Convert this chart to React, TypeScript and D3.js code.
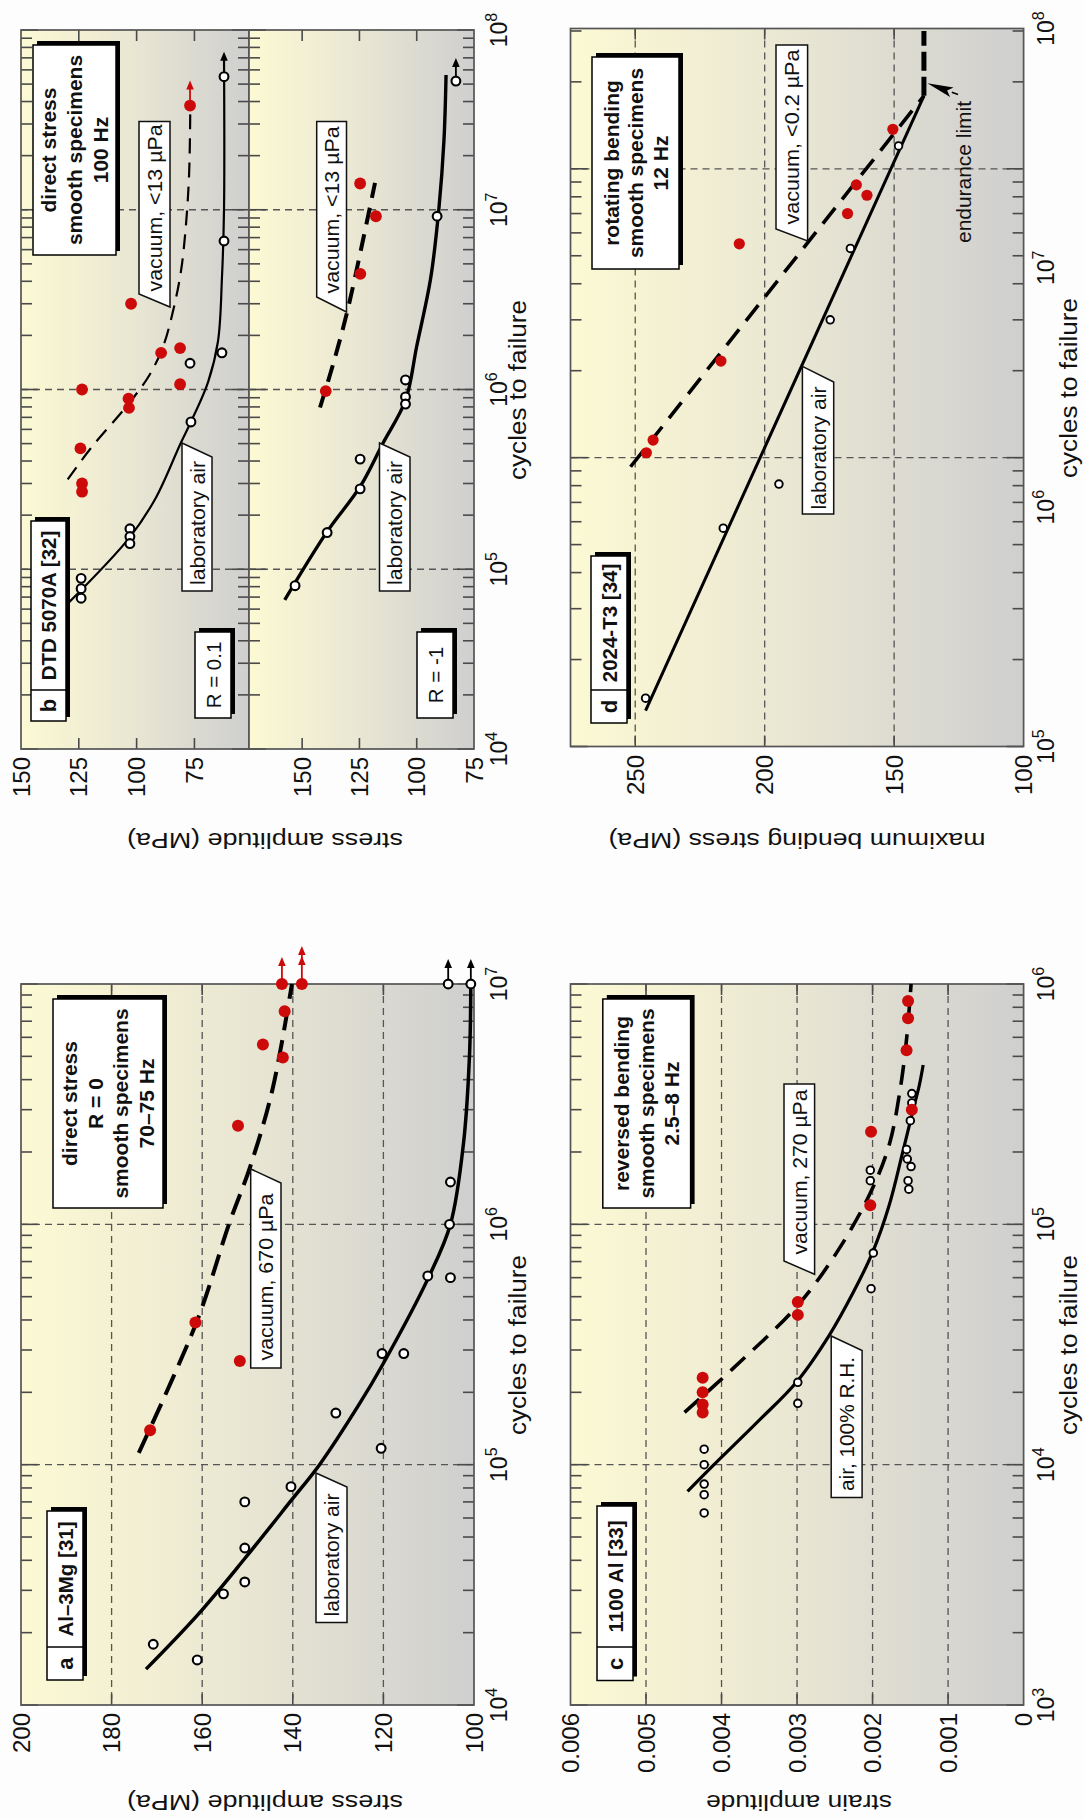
import React from 'react';
import * as d3 from 'd3';

type P = [number, number]; // [cycles, stress or strain]

const FONT = "'Liberation Sans', Arial, Helvetica, sans-serif";
const RED = '#cc0a0a';

// ---------------- Panel a : Al–3Mg [31] ----------------
const aStressTicks = [200, 180, 160, 140, 120, 100];
const aStressGrid = [180, 160, 140, 120];
const aCycleLabels = [1e4, 1e5, 1e6, 1e7];
const aCycleGrid = [1e5, 1e6];
const aAirPts: P[] = [
  [1.5e6, 105.2], [1.0e6, 105.4], [6.1e5, 110.2], [6.0e5, 105.2], [2.9e5, 120.3], [2.9e5, 115.5],
  [1.64e5, 130.5], [1.17e5, 120.5], [8.1e4, 140.4], [7.0e4, 150.6], [4.5e4, 150.6], [3.25e4, 150.6],
  [2.9e4, 155.3], [1.79e4, 170.8], [1.54e4, 161.1],
];
const aAirRunouts: P[] = [[1e7, 105.7], [1e7, 100.7]];
const aVacPts: P[] = [
  [7.7e6, 141.8], [5.6e6, 146.6], [4.95e6, 142.2], [2.57e6, 152.1], [3.9e5, 161.5], [2.7e5, 151.7], [1.39e5, 171.5],
];
const aVacRunouts: P[] = [[1e7, 142.4], [1e7, 138.0]];
const aAirFit: P[] = [
  [1.41e4, 172.4], [2.36e4, 161.1], [4.07e4, 150.6], [7.08e4, 140.4], [1.0e5, 134.1], [1.79e5, 125.3],
  [2.58e5, 120.3], [6.03e5, 110.0], [1.0e6, 105.2], [2.19e6, 102.3], [5.01e6, 101.0], [1.0e7, 100.7],
];
const aVacFit: P[] = [
  [1.12e5, 174.0], [3.98e5, 161.1], [1.0e6, 154.1], [1.74e6, 149.4], [3.63e6, 144.5], [1.0e7, 140.2],
];

// ---------------- Panel b : DTD 5070A [32] ----------------
const bStressLabels = [150, 125, 100, 75];
const b1StressTicks = [125, 100, 75];
const b2StressTicks = [150, 125, 100];
const bCycleLabels = [1e4, 1e5, 1e6, 1e7, 1e8];
const bCycleGrid = [1e5, 1e6, 1e7];
// R = 0.1
const b1AirPts: P[] = [
  [6.7e6, 62.2], [1.6e6, 63.1], [1.4e6, 76.9], [6.6e5, 76.5],
  [1.68e5, 102.9], [1.52e5, 102.9], [1.39e5, 102.9], [8.9e4, 124.0], [7.8e4, 124.0], [6.9e4, 124.0],
];
const b1AirRunouts: P[] = [[5.5e7, 62.2]];
const b1VacPts: P[] = [
  [3.0e6, 102.4], [1.6e6, 89.4], [1.7e6, 81.2], [1.07e6, 81.2], [1.0e6, 123.6], [8.9e5, 103.5],
  [7.9e5, 103.3], [4.7e5, 124.3], [3.0e5, 123.6], [2.7e5, 123.6],
];
const b1VacRunouts: P[] = [[3.8e7, 76.9]];
const b1AirFit: P[] = [
  [6.46e4, 129.7], [1.51e5, 102.9], [2.51e5, 91.6], [5.01e5, 81.0], [6.61e5, 76.5], [1.10e6, 69.1],
  [1.86e6, 64.8], [4.17e6, 63.1], [1.02e7, 62.2], [6.92e7, 62.2],
];
const b1VacFit: P[] = [
  [3.16e5, 129.8], [4.68e5, 120.0], [8.32e5, 103.5], [1.20e6, 94.5], [1.74e6, 88.5], [2.82e6, 84.0],
  [4.57e6, 80.8], [8.13e6, 78.7], [1.58e7, 77.3], [3.55e7, 76.8],
];
// R = -1
const b2AirPts: P[] = [
  [9.2e6, 91.1], [1.13e6, 104.9], [9.1e5, 104.9], [8.3e5, 104.9], [4.1e5, 124.7], [2.8e5, 124.7],
  [1.6e5, 139.1], [8.1e4, 153.1],
];
const b2AirRunouts: P[] = [[5.2e7, 82.9]];
const b2VacPts: P[] = [[1.4e7, 124.7], [9.2e6, 117.8], [4.4e6, 124.6], [9.8e5, 139.7]];
const b2AirFit: P[] = [
  [6.76e4, 157.6], [1.62e5, 139.1], [2.88e5, 124.7], [5.01e5, 114.8], [8.71e5, 104.9], [1.74e6, 100.0],
  [4.17e6, 93.9], [1.02e7, 90.3], [2.45e7, 88.1], [5.62e7, 87.2],
];
const b2VacFit: P[] = [[7.94e5, 142.2], [1.41e6, 136.3], [2.69e6, 130.4], [6.03e6, 124.3], [1.41e7, 118.2]];

// ---------------- Panel c : 1100 Al [33] ----------------
const cStrainTicks = [0.006, 0.005, 0.004, 0.003, 0.002, 0.001, 0];
const cStrainLabels = ['0.006', '0.005', '0.004', '0.003', '0.002', '0.001', '0'];
const cStrainGrid = [0.005, 0.004, 0.003, 0.002, 0.001];
const cCycleLabels = [1e3, 1e4, 1e5, 1e6];
const cCycleGrid = [1e4, 1e5];
const cAirPts: P[] = [
  [3.5e5, 0.00148], [3.2e5, 0.00148], [2.7e5, 0.0015], [2.05e5, 0.00155], [1.87e5, 0.00154], [1.74e5, 0.00149],
  [1.52e5, 0.00153], [1.4e5, 0.00152], [1.68e5, 0.00203], [1.52e5, 0.00203], [7.6e4, 0.00199], [5.4e4, 0.00202],
  [2.2e4, 0.00299], [1.8e4, 0.00299], [1.16e4, 0.00423], [1.0e4, 0.00423], [8.3e3, 0.00423], [7.5e3, 0.00423],
  [6.3e3, 0.00423],
];
const cVacPts: P[] = [
  [8.5e5, 0.00153], [7.2e5, 0.00153], [5.3e5, 0.00155], [3.0e5, 0.00148], [2.43e5, 0.00202], [1.2e5, 0.00203],
  [4.75e4, 0.00299], [4.2e4, 0.00299], [2.3e4, 0.00425], [2.0e4, 0.00425], [1.78e4, 0.00425], [1.65e4, 0.00425],
];
const cAirFit: P[] = [
  [7.74e3, 0.00445], [1.0e4, 0.0041], [1.51e4, 0.00352], [2.22e4, 0.003], [3.47e4, 0.00257], [5.25e4, 0.00225],
  [7.64e4, 0.002], [1.2e5, 0.00178], [2.0e5, 0.0016], [3.02e5, 0.00146], [3.8e5, 0.00138], [4.6e5, 0.00133],
];
const cVacFit: P[] = [
  [1.65e4, 0.00449], [2.51e4, 0.00385], [4.57e4, 0.003], [7.59e4, 0.00248], [1.35e5, 0.00203], [2.14e5, 0.00178],
  [3.55e5, 0.00164], [5.89e5, 0.00155], [1.0e6, 0.00149],
];

// ---------------- Panel d : 2024-T3 [34] ----------------
const dStressTicks = [250, 200, 150, 100];
const dStressGrid = [250, 200, 150];
const dCycleLabels = [1e5, 1e6, 1e7, 1e8];
const dCycleGrid = [1e6, 1e7];
const dAirPts: P[] = [[1.2e7, 148.3], [5.3e6, 166.9], [3.0e6, 174.7], [8.1e5, 194.5], [5.7e5, 216], [1.47e5, 246]];
const dVacPts: P[] = [
  [1.37e7, 150.5], [8.8e6, 164.6], [8.1e6, 160.5], [7.0e6, 168], [5.5e6, 209.8], [2.16e6, 216.9],
  [1.15e6, 243.1], [1.04e6, 245.7],
];
const dAirFit: P[] = [[1.33e5, 246.0], [1.79e7, 138.5]];
const dVacFit: P[] = [[9.3e5, 251.8], [1.79e7, 138.5]];
const dEndurance: P[] = [[1.79e7, 138.5], [3.0e7, 138.5]];

// ---------------- helpers ----------------
type Sc = (v: number) => number;

const logTickValues = (lo: number, hi: number) => {
  const out: { v: number; major: boolean }[] = [];
  const e0 = Math.floor(Math.log10(lo));
  const e1 = Math.ceil(Math.log10(hi));
  for (let e = e0; e <= e1; e++) {
    for (let k = 1; k <= 9; k++) {
      const v = k * Math.pow(10, e);
      if (v >= lo * 0.9999 && v <= hi * 1.0001) out.push({ v, major: k === 1 });
    }
  }
  return out;
};

const fitPath = (pts: P[], sSc: Sc, nSc: Sc, smooth = true) =>
  d3
    .line<P>()
    .x((d) => sSc(d[1]))
    .y((d) => nSc(d[0]))
    .curve(smooth ? d3.curveCatmullRom.alpha(0.5) : d3.curveLinear)(pts) || '';

function RText({ x, y, children, size = 20, weight = 'normal', anchor = 'middle', baseline = 'central', len, rot = -90 }: any) {
  return (
    <text
      transform={`translate(${x},${y}) rotate(${rot})`}
      fontSize={size}
      fontWeight={weight}
      textAnchor={anchor}
      dominantBaseline={baseline}
      fontFamily={FONT}
      fill="#111"
      textLength={len}
      lengthAdjust={len ? 'spacingAndGlyphs' : undefined}
    >
      {children}
    </text>
  );
}

function Frame({ x0, x1, y0, y1, nScale, sScale, sTicks, sGrid, nGrid }: any) {
  const [lo, hi] = nScale.domain();
  const lt = logTickValues(lo, hi);
  const tc = '#4a4a4a';
  return (
    <g>
      <rect x={x0} y={y0} width={x1 - x0} height={y1 - y0} fill="url(#bgGrad)" />
      {sGrid.map((v: number) => (
        <line key={'sg' + v} x1={sScale(v)} x2={sScale(v)} y1={y0} y2={y1} stroke="#555" strokeWidth={1.3} strokeDasharray="7 5" />
      ))}
      {nGrid.map((v: number) => (
        <line key={'ng' + v} x1={x0} x2={x1} y1={nScale(v)} y2={nScale(v)} stroke="#555" strokeWidth={1.3} strokeDasharray="7 5" />
      ))}
      {lt.map((t) => {
        const y = nScale(t.v);
        const len = t.major ? 17 : 11;
        return (
          <g key={'lt' + t.v} stroke={tc} strokeWidth={1.6}>
            <line x1={x0} x2={x0 + len} y1={y} y2={y} />
            <line x1={x1 - len} x2={x1} y1={y} y2={y} />
          </g>
        );
      })}
      {sTicks.map((v: number) => (
        <g key={'st' + v} stroke={tc} strokeWidth={1.6}>
          <line x1={sScale(v)} x2={sScale(v)} y1={y0} y2={y0 + 11} />
          <line x1={sScale(v)} x2={sScale(v)} y1={y1 - 11} y2={y1} />
        </g>
      ))}
      <rect x={x0} y={y0} width={x1 - x0} height={y1 - y0} fill="none" stroke="#555" strokeWidth={1.7} />
    </g>
  );
}

function Open({ pts, sSc, nSc, r = 4.4, sw = 2.1 }: any) {
  return (
    <g>
      {pts.map((d: P, i: number) => (
        <circle key={i} cx={sSc(d[1])} cy={nSc(d[0])} r={r} fill="#fff" stroke="#000" strokeWidth={sw} />
      ))}
    </g>
  );
}

function Dots({ pts, sSc, nSc, r = 5.8 }: any) {
  return (
    <g>
      {pts.map((d: P, i: number) => (
        <circle key={i} cx={sSc(d[1])} cy={nSc(d[0])} r={r} fill={RED} />
      ))}
    </g>
  );
}

function Runout({ x, y, len = 22, color = '#000', double = false }: any) {
  const tip = y - len;
  const head = (ty: number) => `${x},${ty} ${x - 3.8},${ty + 9} ${x + 3.8},${ty + 9}`;
  return (
    <g>
      <line x1={x} x2={x} y1={y} y2={tip + 6} stroke={color} strokeWidth={1.8} />
      <polygon points={head(tip)} fill={color} />
      {double && <polygon points={head(tip + 10)} fill={color} />}
    </g>
  );
}

function InfoBox({ x, y, w, h, lines, spacing }: any) {
  const cx = x + w / 2;
  const cy = y + h / 2;
  const n = lines.length;
  return (
    <g>
      <rect x={x + 4} y={y - 4} width={w} height={h} fill="#000" />
      <rect x={x} y={y} width={w} height={h} fill="#fff" stroke="#000" strokeWidth={1.5} />
      {lines.map((t: string, i: number) => (
        <RText key={i} x={cx + (i - (n - 1) / 2) * spacing} y={cy} weight="bold" size={21}>
          {t}
        </RText>
      ))}
    </g>
  );
}

function LabelBox({ x, y, w, h, sep, letter, text }: any) {
  const cx = x + w / 2;
  return (
    <g>
      <rect x={x + 4} y={y - 4} width={w} height={h} fill="#000" />
      <rect x={x} y={y} width={w} height={h} fill="#fff" stroke="#000" strokeWidth={1.5} />
      <line x1={x} x2={x + w} y1={sep} y2={sep} stroke="#000" strokeWidth={1.5} />
      <RText x={cx} y={(sep + y + h) / 2} weight="bold" size={22}>
        {letter}
      </RText>
      <RText x={cx} y={(y + sep) / 2} weight="bold" size={20.5}>
        {text}
      </RText>
    </g>
  );
}

function Callout({ pts, cx, cy, text, len }: any) {
  return (
    <g>
      <polygon points={pts.map((p: number[]) => p.join(',')).join(' ')} fill="#fff" stroke="#111" strokeWidth={1.5} />
      <RText x={cx} y={cy} len={len} size={20.5}>
        {text}
      </RText>
    </g>
  );
}

function StressLabels({ vals, labels, sSc, y }: any) {
  return (
    <g>
      {vals.map((v: number, i: number) => (
        <RText key={i} x={sSc(v)} y={y} anchor="end" size={24}>
          {labels ? labels[i] : String(v)}
        </RText>
      ))}
    </g>
  );
}

function CycleLabels({ vals, nSc, x }: any) {
  return (
    <g>
      {vals.map((v: number) => (
        <text
          key={v}
          transform={`translate(${x},${nSc(v)}) rotate(-90)`}
          textAnchor="middle"
          fontSize={23}
          fontFamily={FONT}
          fill="#111"
        >
          10
          <tspan dy={-10} fontSize={16}>
            {Math.round(Math.log10(v))}
          </tspan>
        </text>
      ))}
    </g>
  );
}

export default function App() {
  // scales (screen x = stress/strain, screen y = cycles; figure is rotated)
  const aS = d3.scaleLinear().domain([200, 100]).range([21, 474]);
  const aN = d3.scaleLog().domain([1e4, 1e7]).range([1705, 984]);
  const b1S = d3.scaleLinear().domain([150, 51.4]).range([21, 249]);
  const b2S = d3.scaleLinear().domain([173.2, 75]).range([249, 474]);
  const bN = d3.scaleLog().domain([1e4, 1e8]).range([749, 30]);
  const cS = d3.scaleLinear().domain([0.006, 0]).range([570.5, 1023.6]);
  const cN = d3.scaleLog().domain([1e3, 1e6]).range([1705, 984]);
  const dS = d3.scaleLinear().domain([275, 100]).range([570.5, 1023.6]);
  const dN = d3.scaleLog().domain([1e5, 3.06e7]).range([746.5, 28.5]);
  const dNLabel = d3.scaleLog().domain([1e5, 1e8]).range([746.5, 28.5]);

  // endurance limit arrow geometry
  const tip = [927.4, 83.3];
  const tail = [958, 94.5];
  const dx = tail[0] - tip[0];
  const dy = tail[1] - tip[1];
  const L = Math.hypot(dx, dy);
  const ux = dx / L;
  const uy = dy / L;
  const hb = [tip[0] + ux * 26, tip[1] + uy * 26];
  const notch = [tip[0] + ux * 21, tip[1] + uy * 21];
  const arrowHead = `${tip[0]},${tip[1]} ${hb[0] - uy * 5},${hb[1] + ux * 5} ${notch[0]},${notch[1]} ${hb[0] + uy * 5},${hb[1] - ux * 5}`;

  return (
    <svg
      width={1084}
      height={1819}
      viewBox="0 0 1084 1819"
      style={{ position: 'absolute', left: 0, top: 0, background: '#fff' }}
      fontFamily={FONT}
    >
      <defs>
        <linearGradient id="bgGrad" x1="0" y1="0" x2="1" y2="0">
          <stop offset="0" stopColor="#fcf9d4" />
          <stop offset="0.45" stopColor="#ebe8d3" />
          <stop offset="1" stopColor="#cfcfcf" />
        </linearGradient>
      </defs>
      <rect x={0} y={0} width={1084} height={1819} fill="#fdfdfd" />

      {/* ================= Panel b ================= */}
      <Frame x0={21} x1={249} y0={30} y1={749} nScale={bN} sScale={b1S} sTicks={b1StressTicks} sGrid={[]} nGrid={bCycleGrid} />
      <Frame x0={249} x1={474} y0={30} y1={749} nScale={bN} sScale={b2S} sTicks={b2StressTicks} sGrid={[]} nGrid={bCycleGrid} />
      <InfoBox x={33} y={45} w={83} h={210} lines={['direct stress', 'smooth specimens', '100 Hz']} spacing={26} />
      <LabelBox x={31} y={521} w={35} h={200} sep={690} letter="b" text="DTD 5070A [32]" />
      <g>
        <rect x={199} y={628} width={36} height={86} fill="#000" />
        <rect x={195} y={632} width={36} height={86} fill="#fff" stroke="#000" strokeWidth={1.5} />
        <RText x={213} y={675} size={20.5}>R = 0.1</RText>
        <rect x={421} y={628} width={36} height={86} fill="#000" />
        <rect x={417} y={632} width={36} height={86} fill="#fff" stroke="#000" strokeWidth={1.5} />
        <RText x={435} y={675} size={20.5}>R = -1</RText>
      </g>
      <path d={fitPath(b1AirFit, b1S, bN)} fill="none" stroke="#000" strokeWidth={2.2} />
      <path d={fitPath(b1VacFit, b1S, bN)} fill="none" stroke="#000" strokeWidth={2.2} strokeDasharray="15 9" />
      <path d={fitPath(b2AirFit, b2S, bN)} fill="none" stroke="#000" strokeWidth={3.4} />
      <path d={fitPath(b2VacFit, b2S, bN)} fill="none" stroke="#000" strokeWidth={4} strokeDasharray="17 10" />
      <Callout pts={[[182, 443], [212, 457], [212, 591], [182, 591]]} cx={197} cy={523} text="laboratory air" len={124} />
      <Callout pts={[[379.5, 443], [410, 457], [410, 591], [379.5, 591]]} cx={394.7} cy={523} text="laboratory air" len={124} />
      <Callout pts={[[139, 121.5], [170, 121.5], [170, 307], [139, 294]]} cx={154.5} cy={208} text="vacuum, <13 µPa" len={167} />
      <Callout pts={[[316.7, 121.5], [346.5, 121.5], [346.5, 312], [316.7, 297]]} cx={331.6} cy={210} text="vacuum, <13 µPa" len={167} />
      {b1AirRunouts.map((d, i) => <Runout key={'b1a' + i} x={b1S(d[1])} y={bN(d[0])} len={25} />)}
      {b1VacRunouts.map((d, i) => <Runout key={'b1v' + i} x={b1S(d[1])} y={bN(d[0])} len={25} color={RED} />)}
      {b2AirRunouts.map((d, i) => <Runout key={'b2a' + i} x={b2S(d[1])} y={bN(d[0])} len={23} />)}
      <Open pts={[...b1AirPts, ...b1AirRunouts]} sSc={b1S} nSc={bN} />
      <Open pts={[...b2AirPts, ...b2AirRunouts]} sSc={b2S} nSc={bN} />
      <Dots pts={[...b1VacPts, ...b1VacRunouts]} sSc={b1S} nSc={bN} r={5.9} />
      <Dots pts={b2VacPts} sSc={b2S} nSc={bN} r={5.9} />
      <StressLabels vals={bStressLabels} sSc={b1S} y={757} />
      <StressLabels vals={bStressLabels} sSc={b2S} y={757} />
      <CycleLabels vals={bCycleLabels} nSc={bN} x={507} />
      <RText x={526} y={390} baseline="auto" size={23} len={180}>cycles to failure</RText>
      <RText x={265} y={833} baseline="auto" size={22} len={276} rot={180}>stress amplitude (MPa)</RText>

      {/* ================= Panel d ================= */}
      <Frame x0={570.5} x1={1023.6} y0={28.5} y1={746.5} nScale={dN} sScale={dS} sTicks={dStressGrid} sGrid={dStressGrid} nGrid={dCycleGrid} />
      <InfoBox x={592} y={57} w={87} h={212} lines={['rotating bending', 'smooth specimens', '12 Hz']} spacing={24.5} />
      <LabelBox x={591} y={556} w={36} h={167} sep={690} letter="d" text="2024-T3 [34]" />
      <path d={fitPath(dAirFit, dS, dN, false)} fill="none" stroke="#000" strokeWidth={3} />
      <path d={fitPath(dVacFit, dS, dN, false)} fill="none" stroke="#000" strokeWidth={3.6} strokeDasharray="20 11" />
      <path d={fitPath(dEndurance, dS, dN, false)} fill="none" stroke="#000" strokeWidth={5} strokeDasharray="19 6" />
      <Callout pts={[[776, 45], [807.6, 45], [807.6, 241], [776, 229]]} cx={791.8} cy={137} text="vacuum, <0.2 µPa" len={175} />
      <Callout pts={[[802.4, 366.3], [833.7, 382], [833.7, 514], [802.4, 514]]} cx={818} cy={448} text="laboratory air" len={123} />
      <line x1={tail[0]} y1={tail[1]} x2={hb[0]} y2={hb[1]} stroke="#000" strokeWidth={1.5} />
      <polygon points={arrowHead} fill="#000" />
      <RText x={971} y={172} baseline="auto" size={20.5} len={142}>endurance limit</RText>
      <Open pts={dAirPts} sSc={dS} nSc={dN} r={3.8} sw={1.9} />
      <Dots pts={dVacPts} sSc={dS} nSc={dN} r={5.6} />
      <StressLabels vals={dStressTicks} sSc={dS} y={755} />
      <CycleLabels vals={dCycleLabels} nSc={dNLabel} x={1054} />
      <RText x={1077} y={388} baseline="auto" size={23} len={180}>cycles to failure</RText>
      <RText x={797} y={833} baseline="auto" size={22} len={377} rot={180}>maximum bending stress (MPa)</RText>

      {/* ================= Panel a ================= */}
      <Frame x0={21} x1={474} y0={984} y1={1705} nScale={aN} sScale={aS} sTicks={aStressGrid} sGrid={aStressGrid} nGrid={aCycleGrid} />
      <InfoBox x={53} y={999} w={110} h={209} lines={['direct stress', 'R = 0', 'smooth specimens', '70–75 Hz']} spacing={25.5} />
      <LabelBox x={47} y={1511} w={36} h={169} sep={1647} letter="a" text="Al–3Mg [31]" />
      <path d={fitPath(aAirFit, aS, aN)} fill="none" stroke="#000" strokeWidth={3.5} />
      <path d={fitPath(aVacFit, aS, aN)} fill="none" stroke="#000" strokeWidth={4} strokeDasharray="22 10" />
      <Callout pts={[[250.7, 1169], [281, 1183], [281, 1368], [250.7, 1368]]} cx={265.8} cy={1277} text="vacuum, 670 µPa" len={167} />
      <Callout pts={[[316, 1473], [347, 1487], [347, 1622.5], [316, 1622.5]]} cx={331.5} cy={1555} text="laboratory air" len={123} />
      {aAirRunouts.map((d, i) => <Runout key={'aa' + i} x={aS(d[1])} y={aN(d[0])} len={25} />)}
      {aVacRunouts.map((d, i) => <Runout key={'av' + i} x={aS(d[1])} y={aN(d[0])} len={i === 1 ? 38 : 27} color={RED} double={i === 1} />)}
      <Open pts={[...aAirPts, ...aAirRunouts]} sSc={aS} nSc={aN} />
      <Dots pts={[...aVacPts, ...aVacRunouts]} sSc={aS} nSc={aN} r={6} />
      <StressLabels vals={aStressTicks} sSc={aS} y={1713} />
      <CycleLabels vals={aCycleLabels} nSc={aN} x={507} />
      <RText x={526} y={1345} baseline="auto" size={23} len={180}>cycles to failure</RText>
      <RText x={265} y={1795} baseline="auto" size={22} len={276} rot={180}>stress amplitude (MPa)</RText>

      {/* ================= Panel c ================= */}
      <Frame x0={570.5} x1={1023.6} y0={984} y1={1705} nScale={cN} sScale={cS} sTicks={cStrainGrid} sGrid={cStrainGrid} nGrid={cCycleGrid} />
      <InfoBox x={602.8} y={999} w={87.8} h={209} lines={['reversed bending', 'smooth specimens', '2.5–8 Hz']} spacing={25} />
      <LabelBox x={597} y={1506} w={36} h={174.5} sep={1647} letter="c" text="1100 Al [33]" />
      <path d={fitPath(cAirFit, cS, cN)} fill="none" stroke="#000" strokeWidth={3.2} />
      <path d={fitPath(cVacFit, cS, cN)} fill="none" stroke="#000" strokeWidth={3.6} strokeDasharray="20 11" />
      <Callout pts={[[784, 1084], [814.6, 1084], [814.6, 1274.3], [784, 1261]]} cx={799.3} cy={1172} text="vacuum, 270 µPa" len={165} />
      <Callout pts={[[831.2, 1336], [862.1, 1350.6], [862.1, 1497.5], [831.2, 1497.5]]} cx={846.6} cy={1424} text="air, 100% R.H." len={134} />
      <Open pts={cAirPts} sSc={cS} nSc={cN} r={3.8} sw={1.9} />
      <Dots pts={cVacPts} sSc={cS} nSc={cN} r={6} />
      <StressLabels vals={cStrainTicks} labels={cStrainLabels} sSc={cS} y={1713} />
      <CycleLabels vals={cCycleLabels} nSc={cN} x={1054} />
      <RText x={1077} y={1345} baseline="auto" size={23} len={180}>cycles to failure</RText>
      <RText x={799} y={1795} baseline="auto" size={22} len={186} rot={180}>strain amplitude</RText>
    </svg>
  );
}
